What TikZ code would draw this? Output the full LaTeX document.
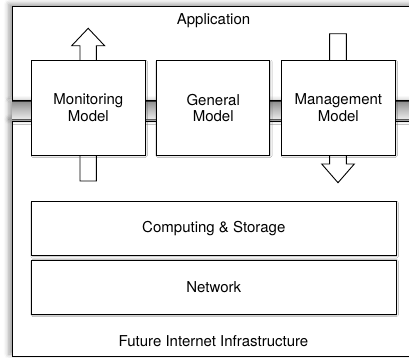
\documentclass[tikz,border=0pt]{standalone}
\usepackage{fontspec}
\setmainfont{TeX Gyre Heros}
\usetikzlibrary{shadows.blur}
\begin{document}
\begin{tikzpicture}[x=1pt,y=-1pt,
  bigbox/.style={draw=black, line width=0.9pt, fill=white,
    blur shadow={shadow xshift=-3pt, shadow yshift=2pt, shadow blur radius=5pt, shadow opacity=40}},
  modelbox/.style={draw=black, line width=0.9pt, fill=white, minimum width=113.3pt, minimum height=94.3pt,
    align=center, inner sep=0pt, font=\fontsize{15}{16.5}\selectfont,
    blur shadow={shadow xshift=0.8pt, shadow yshift=-0.8pt, shadow blur radius=1.5pt, shadow opacity=30}},
  layerbox/.style={draw=black, line width=0.9pt, fill=white, minimum width=364.3pt, minimum height=54pt,
    inner sep=0pt, font=\fontsize{15}{16.5}\selectfont,
    blur shadow={shadow xshift=0.8pt, shadow yshift=-0.8pt, shadow blur radius=1.5pt, shadow opacity=30}},
  label/.style={font=\fontsize{15}{16.5}\selectfont, inner sep=0pt},
  blockarrow/.style={draw=black, line width=0.9pt, fill=white, line join=miter}
]
\useasboundingbox (0,0) rectangle (409,357);
\clip (0,0) rectangle (409,357);

% outer layers
\path[bigbox] (12,6) rectangle (440,100);
\node[label] (applbl) at (213.5,21) {Application};
\path[bigbox] (12,121) rectangle (440,356);
\node[label] (infralbl) at (213.5,341.5) {Future Internet Infrastructure};

% connecting band
\path[top color=gray!90, bottom color=gray!15, middle color=gray!50,
  blur shadow={shadow xshift=-3pt, shadow yshift=0pt, shadow blur radius=5pt, shadow opacity=40}]
  (12,101) rectangle (440,119.5);
\draw[black!80, line width=0.8pt] (12,101) -- (440,101);
\draw[black!65, line width=0.6pt] (12,119.5) -- (440,119.5);

% block arrows (behind the model boxes)
\draw[blockarrow] (80,181) -- (80,45.7) -- (71.7,45.7) -- (88.2,28.3) -- (104.6,45.7) -- (96.4,45.7) -- (96.4,181) -- cycle;
\draw[blockarrow] (329.6,33.7) -- (329.6,164) -- (321.7,164) -- (338,182.7) -- (354.3,164) -- (346.3,164) -- (346.3,33.7) -- cycle;

% models
\node[modelbox] (mon) at (88.35,107.85) {Monitoring\\Model};
\node[modelbox] (gen) at (213.2,107.85) {General\\Model};
\node[modelbox] (man) at (338.35,107.85) {Management\\Model};

% layers
\node[layerbox] (comp) at (213.8,228.7) {Computing \& Storage};
\node[layerbox, minimum height=54.3pt] (net) at (213.8,287.2) {Network};
\end{tikzpicture}
\end{document}
